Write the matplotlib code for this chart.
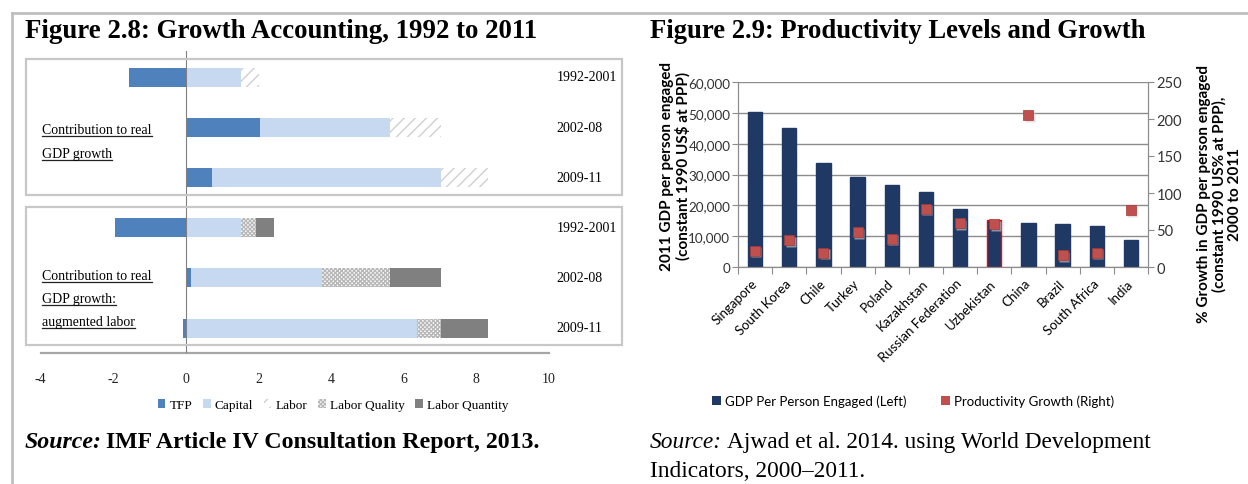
import numpy as np
import matplotlib
matplotlib.use("Agg")
import matplotlib.pyplot as plt
from matplotlib.patches import Rectangle, Patch
from matplotlib.lines import Line2D

# ---- Figure 2.8 data (percentage points) ----
periods = ["1992-2001", "2002-08", "2009-11"]
tfp_a = [-1.58, 2.03, 0.72]
capital_a = [1.51, 3.60, 6.31]
labor_a = [0.50, 1.40, 1.29]

tfp_b = [-1.96, 0.13, -0.09]
capital_b = [1.51, 3.62, 6.35]
quality_b = [0.42, 1.88, 0.68]
quantity_b = [0.50, 1.40, 1.29]
xticks_left = [-4, -2, 0, 2, 4, 6, 8, 10]

# ---- Figure 2.9 data ----
countries = ["Singapore", "South Korea", "Chile", "Turkey", "Poland", "Kazakhstan",
             "Russian Federation", "Uzbekistan", "China", "Brazil", "South Africa", "India"]
gdp_pp = [50200, 45000, 33600, 29100, 26700, 24300, 18900, 15100, 14400, 13800, 13300, 8700]
growth = [22, 36, 19, 47, 38, 79, 59, 58, 205, 16, 19, 77]

W, H = 1248, 485
fig = plt.figure(figsize=(W / 100, H / 100), dpi=100)
fig.patch.set_facecolor("white")

serif = "Liberation Serif"
sans = "Lato"


def px_axes(x0, y0, x1, y1):
    return fig.add_axes([x0 / W, 1 - y1 / H, (x1 - x0) / W, (y1 - y0) / H])


def fx(x):
    return x / W


def fy(y):
    return 1 - y / H


# outer frame lines
fig.add_artist(Line2D([fx(12), 1], [fy(14), fy(14)], color="#BFBFBF", lw=2))
fig.add_artist(Line2D([fx(12), fx(12)], [fy(14), 0], color="#BFBFBF", lw=2))

# titles
fig.text(fx(25), fy(31), "Figure 2.8: Growth Accounting, 1992 to 2011", family=serif,
         fontsize=19.4, fontweight="bold", va="center")
fig.text(fx(650), fy(31), "Figure 2.9: Productivity Levels and Growth", family=serif,
         fontsize=19.2, fontweight="bold", va="center")

# ================= left chart =================
c_tfp = "#4F81BD"
c_cap = "#C6D9F1"
c_lab = "#D0D0D0"
c_qual = "#B8B8B8"
c_quan = "#808080"

for (y0, y1) in [(60, 196), (208, 346)]:
    fig.add_artist(Rectangle((fx(26), fy(y1)), fx(622) - fx(26), fy(y0) - fy(y1),
                             transform=fig.transFigure, fill=False,
                             edgecolor="#C8C8C8", lw=1.6))

ax = px_axes(40.8, 52, 549, 354)
ax.set_xlim(-4, 10)
step = 50.2
ax.set_ylim((354 - 78) / step, (52 - 78) / step)
ax.patch.set_alpha(0)

groups = [
    [(tfp_a, dict(color=c_tfp)), (capital_a, dict(color=c_cap)),
     (labor_a, dict(facecolor="white", edgecolor=c_lab, hatch="///", lw=0))],
    [(tfp_b, dict(color=c_tfp)), (capital_b, dict(color=c_cap)),
     (quality_b, dict(facecolor="white", edgecolor=c_qual, hatch="xxxxxxxx", lw=0)),
     (quantity_b, dict(color=c_quan))],
]
bh = 19 / step
for gi, series in enumerate(groups):
    ypos = np.arange(3) + 3 * gi
    pos = np.zeros(3)
    neg = np.zeros(3)
    for vals, style in series:
        vals = np.array(vals)
        left = np.where(vals >= 0, pos, neg)
        ax.barh(ypos, vals, left=left, height=bh, zorder=2, **style)
        pos = pos + np.clip(vals, 0, None)
        neg = neg + np.clip(vals, None, 0)
    for i, p in enumerate(periods):
        ax.text(10.2, ypos[i], p, family=serif, fontsize=10, va="center", ha="left",
                clip_on=False)

ax.axvline(0, color="#808080", lw=0.8, zorder=3)
for s in ["top", "right", "left"]:
    ax.spines[s].set_visible(False)
ax.spines["bottom"].set_color("#A6A6A6")
ax.spines["bottom"].set_linewidth(1.6)
ax.set_yticks([])
ax.set_xticks(xticks_left)
ax.set_xticklabels([str(v) for v in xticks_left], family=serif, fontsize=10)
ax.tick_params(axis="x", length=0, pad=14, colors="#222222")

# group labels (underlined later)
label_texts = []
for y, s in [(131, "Contribution to real"), (155, "GDP growth"),
             (277, "Contribution to real"), (300, "GDP growth:"), (323, "augmented labor")]:
    label_texts.append(fig.text(fx(42), fy(y), s, family=serif, fontsize=10, va="center"))

leg_handles = [
    Patch(facecolor=c_tfp), Patch(facecolor=c_cap),
    Patch(facecolor="white", edgecolor=c_lab, hatch="///", lw=0),
    Patch(facecolor="white", edgecolor=c_qual, hatch="xxxxxxxx", lw=0),
    Patch(facecolor=c_quan),
]
fig.legend(leg_handles, ["TFP", "Capital", "Labor", "Labor Quality", "Labor Quantity"],
           loc="center", bbox_to_anchor=(fx(333), fy(406)), ncol=5, frameon=False,
           prop={"family": serif, "size": 9.5}, handlelength=0.6, handleheight=0.6,
           handletextpad=0.3, columnspacing=0.8)

t1 = fig.text(fx(25), fy(443), "Source:", family=serif, fontsize=17.2, fontweight="bold",
              fontstyle="italic", va="center")

# ================= right chart =================
navy = "#1F3864"
red = "#C0504D"
ax2 = px_axes(738, 83, 1148, 268)
xs = np.arange(len(countries))
edges = [navy] * len(countries)
edges[countries.index("Uzbekistan")] = "#FF0000"
ax2.bar(xs, gdp_pp, width=0.42, color=navy, edgecolor=edges, lw=1, zorder=2)
ax2.set_xlim(-0.5, len(countries) - 0.5)
ax2.set_ylim(0, 60000)
ax2.set_yticks(np.arange(0, 60001, 10000))
ax2.set_yticklabels([f"{v:,}" for v in range(0, 60001, 10000)], family=sans, fontsize=9.7)
ax2.grid(axis="y", color="#8C8C8C", lw=1, zorder=0)
ax2.set_axisbelow(True)
ax2.set_xticks(np.arange(len(countries) + 1) - 0.5, minor=False)
ax2.set_xticklabels([])
ax2.set_xticks(xs, minor=True)
ax2.set_xticklabels(countries, minor=True, rotation=45, ha="right", va="center",
                    rotation_mode="anchor", family=sans, fontsize=9.5)
ax2.tick_params(axis="x", which="major", length=5, color="#8C8C8C", direction="out")
ax2.tick_params(axis="x", which="minor", length=0, pad=10)
ax2.tick_params(axis="y", length=4, color="#8C8C8C", colors="#333333", pad=1.5)
ax2.spines["top"].set_visible(False)
for s in ["left", "right", "bottom"]:
    ax2.spines[s].set_color("#8C8C8C")
ax2.set_ylabel("2011 GDP per person engaged\n(constant 1990 US$ at PPP)", family=sans,
               fontsize=11, fontweight="bold", linespacing=1.1)
ax2.yaxis.set_label_coords(-0.115, 0.55)

ax3 = ax2.twinx()
ax3.set_ylim(0, 250)
ax3.set_yticks(np.arange(0, 251, 50))
ax3.set_yticklabels([str(v) for v in range(0, 251, 50)], family=sans, fontsize=10.5)
ax3.plot(xs + 0.04, np.array(growth) - 2, "s", color="#D0D0D0", ms=7, mec="none", alpha=0.6,
         zorder=3)
ax3.plot(xs, growth, "s", color=red, ms=6.5, mec="#A33A37", mew=0.5, zorder=4)
ax3.tick_params(axis="y", length=4, color="#8C8C8C", colors="#333333", pad=2)
ax3.spines["top"].set_visible(False)
for s in ["left", "right", "bottom"]:
    ax3.spines[s].set_color("#8C8C8C")
ax3.set_ylabel("% Growth in GDP per person engaged\n(constant 1990 US% at PPP),\n2000 to 2011",
               family=sans, fontsize=11, fontweight="bold", linespacing=1.1)
ax3.yaxis.set_label_coords(1.12, 0.4)

fig.legend([Patch(facecolor=navy), Patch(facecolor=red)],
           ["GDP Per Person Engaged (Left)", "Productivity Growth (Right)"],
           loc="center", bbox_to_anchor=(fx(913), fy(402)), ncol=2, frameon=False,
           prop={"family": sans, "size": 9.5}, handlelength=0.7, handleheight=0.7,
           handletextpad=0.3, columnspacing=2.6)

t2 = fig.text(fx(650), fy(443), "Source:", family=serif, fontsize=16.8, fontstyle="italic",
              va="center")
fig.text(fx(650), fy(472), "Indicators, 2000\u20132011.", family=serif, fontsize=16.8,
         va="center")

# continue the source lines after the italic word, and underline the group labels
fig.canvas.draw()
r = fig.canvas.get_renderer()
bb = t1.get_window_extent(r)
fig.text((bb.x1 + 4) / W, fy(443), "IMF Article IV Consultation Report, 2013.", family=serif,
         fontsize=17.2, fontweight="bold", va="center")
bb2 = t2.get_window_extent(r)
fig.text((bb2.x1 + 5) / W, fy(443), "Ajwad et al. 2014. using World Development", family=serif,
         fontsize=16.8, va="center")
for t in label_texts:
    b = t.get_window_extent(r)
    fig.add_artist(Line2D([b.x0 / W, b.x1 / W], [(b.y0 + 1) / H, (b.y0 + 1) / H],
                          color="#222222", lw=0.9))

fig.savefig("out.png", dpi=100)
